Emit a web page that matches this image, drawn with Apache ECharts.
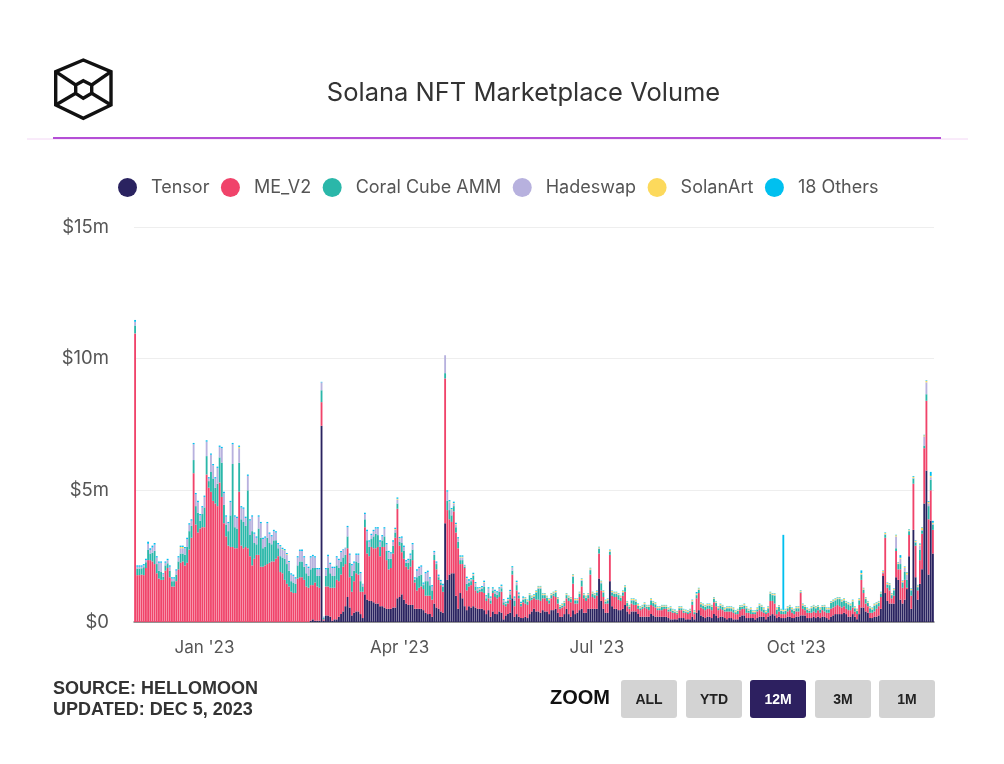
<!DOCTYPE html>
<html>
<head>
<meta charset="utf-8">
<title>Solana NFT Marketplace Volume</title>
<script src="https://cdn.jsdelivr.net/npm/echarts@6/dist/echarts.min.js"></script>
<style>
  html, body { margin: 0; padding: 0; background: #fff; }
  #chart { width: 1004px; height: 764px; filter: blur(0.5px); }
</style>
</head>
<body>
<div id="chart"></div>
<script>
// daily volume in $m. first bar is Nov 30 2022
const firstDay = Date.UTC(2022, 10, 30)
const tickMonths = ['2023-01-01', '2023-04-01', '2023-07-01', '2023-10-01']
const tickLabels = ["Jan '23", "Apr '23", "Jul '23", "Oct '23"]
const yTicks = ['$0', '$5m', '$10m', '$15m']
const names = ['Tensor', 'ME_V2', 'Coral Cube AMM', 'Hadeswap', 'SolanArt', '18 Others']
const colors = ['#2a2360', '#f0436a', '#2ab7a9', '#b7b1de', '#fcd95c', '#00c0ef']

const tensor = [
  0,0,0,0,0,0,0,0,0,0, 0,0,0,0,0,0,0,0,0,0,
  0,0,0,0,0,0,0,0,0,0, 0,0,0,0,0,0,0,0,0,0,
  0,0,0,0,0,0,0,0,0,0, 0,0,0,0,0,0,0,0,0,0,
  0,0,0,0,0,0,0,0,0,0, 0,0,0,0,0,0,0,0,0,0,
  0,.05,.1,.05,.05,.05,7.45,.05,.25,.25,
  .2,.05,.1,.1,.2,.3,.4,.6,.95,.55,
  .25,.35,.4,.4,.3,.15,1.05,.85,.8,.8,
  .75,.7,.7,.6,.6,.55,.5,.5,.5,.55,
  .55,.9,.95,1.05,.85,.7,.65,.65,.65,.5,
  .5,.5,.5,.45,.35,.3,.3,.2,.7,.55,
  .5,.4,.35,3.75,1.6,1.8,1.85,1.85,1,.5,
  1.1,.9,.6,.45,.6,.55,.6,.55,.5,.5,
  .5,.45,.3,.45,.2,.4,.3,.3,.4,.35,
  .1,.25,.3,.35,.9,.2,.3,.2,.15,.15,
  .2,.15,.3,.4,.5,.4,.4,.35,.45,.4,
  .4,.3,.45,.45,.5,.35,.2,.2,.3,.5,
  .3,.2,.45,.3,.35,.45,.5,.35,.35,.5,
  .5,.5,.5,.5,1.65,.8,.5,.35,.35,1.55,
  .6,.5,.5,.45,.45,.5,.65,.4,.3,.4,
  .4,.4,.3,.2,.2,.2,.2,.2,.3,.25,
  .2,.2,.2,.2,.2,.2,.15,.1,.1,.1,
  .1,.15,.15,.15,.1,.1,.1,.2,.1,.35,
  .45,.25,.2,.15,.2,.2,.15,.3,.25,.15,
  .2,.2,.15,.1,.15,.15,.1,.1,.1,.2,
  .25,.25,.15,.15,.15,.15,.1,.15,.2,.2,
  .2,.1,.2,.25,.3,.25,.15,.2,.15,.15,
  .15,.2,.2,.15,.15,.2,.2,.25,.25,.25,
  .15,.15,.15,.2,.15,.2,.15,.2,.2,.15,
  .1,.2,.25,.3,.3,.3,.3,.35,.3,.2,
  .2,.3,.2,.1,.3,.55,.55,.4,.35,.15,
  .15,.2,.2,.25,.5,1.75,1.1,.8,.7,.7,
  .7,1.7,1.6,.85,.7,.85,1.25,2.5,.5,3.5,
  1.7,.85,1.45,2,4.5,5.75,1.8,3.85,2.6
]
const meV2 = [
  10.96,1.78,1.78,1.8,1.78,2.05,2.35,2.35,2.3,2.2,
  1.85,1.65,1.6,1.6,1.95,2.05,1.7,1.35,1.35,1.55,
  2,2.25,2.3,2.15,2.25,2.75,3.2,5.65,3.7,3.4,
  3.55,3.6,3.6,5.6,5.1,4.95,4.6,4.5,4.4,5.3,
  4.75,3.75,3.25,2.9,2.85,2.85,2.8,2.8,4.95,2.9,
  2.8,2.85,2.8,2.5,2.15,2.4,2.55,2.55,2.1,2.1,
  2.15,2.2,2.25,2.3,2.3,2.4,2.5,1.9,1.85,1.6,
  1.45,1.35,1.15,1.1,1.1,1.65,1.7,1.7,1.6,1.35,
  1.3,1.35,1.3,1.45,1.3,1.25,.9,.05,1.1,1.1,
  1.1,1.25,1.2,1.5,1.35,1.5,1.7,1.6,1.85,1.15,
  .9,1.2,1.45,1.4,.85,1,2.55,1.75,1.7,2.05,
  2.05,2.1,2.15,1.9,2.25,2.3,1.85,1.5,1.55,2.05,
  2.65,3.4,1.95,1.6,1.55,1.4,1.35,1.45,1.7,1,
  .7,.8,.85,.8,.65,.7,.7,.65,1.65,1.45,
  1.1,1,.8,5.5,2.65,2.1,1.95,2.35,2.4,2.3,
  1.1,1.3,1.45,.75,.75,.85,1,.65,.6,.65,
  .65,.65,.5,.45,.5,.7,.65,.6,.55,.8,
  .55,.35,.4,.5,.9,.4,.9,.7,.45,.6,
  .5,.5,.5,.45,.4,.45,.45,.45,.45,.5,
  .4,.4,.45,.55,.45,.35,.3,.35,.3,.4,
  .5,.55,1,.4,.35,.5,.85,.55,.45,.4,
  1.3,.45,.4,.5,.95,.4,.45,.35,.35,1,
  .4,.45,.45,.4,.35,.5,.5,.2,.2,.3,
  .25,.25,.2,.25,.3,.35,.3,.25,.35,.35,
  .35,.25,.25,.25,.3,.3,.25,.3,.25,.25,
  .2,.3,.3,.2,.25,.2,.25,.45,.2,.55,
  .65,.3,.3,.3,.3,.3,.3,.45,.35,.3,
  .3,.25,.25,.3,.25,.25,.25,.2,.2,.25,
  .25,.25,.2,.2,.15,.15,.2,.25,.25,.2,
  .15,.2,.15,.55,.5,.45,.15,.2,.15,.15,
  .15,.2,.25,.2,.15,.2,.2,.85,.25,.2,
  .2,.2,.2,.2,.2,.25,.2,.25,.2,.2,
  .25,.3,.3,.3,.35,.3,.25,.25,.2,.25,
  .25,.25,.2,.2,.35,1.05,.55,.3,.25,.2,
  .2,.2,.3,.35,.45,.1,2.1,.5,.5,.2,
  .3,1,.4,1.15,.6,.75,.05,.8,.5,1.75,
  1.2,.35,.9,1.35,2.1,2.65,2.1,1.15,.9
]
const coralCube = [
  .3,.25,.25,.24,.3,.22,.4,.25,.33,.5,
  .35,.3,.3,.12,.2,.18,.25,.2,.2,.25,
  .3,.35,.3,.4,.6,.7,.45,.5,.7,.75,
  .3,.5,.75,.7,.25,.75,.85,.6,.85,.95,
  1.3,.7,.45,.55,1.2,3.15,.8,.75,1.1,1,
  1,.8,2.2,.8,1.3,.6,.4,1,1.1,.7,
  .7,1,.75,.65,.8,.7,.3,.6,.6,.8,
  .75,.6,.4,.4,.35,.5,.6,.6,.5,.5,
  .45,.6,.65,.55,.4,.45,.45,.05,.4,.7,
  .55,.45,.45,.55,.5,.5,.35,.35,.45,.55,
  .6,.4,.45,.45,.4,.2,.3,.5,.35,.3,
  .45,.55,.45,.35,.25,.4,.35,.4,.35,.3,
  .2,.2,.15,.35,.3,.15,.25,.3,.4,.1,
  .5,.45,.45,.15,.55,.55,.4,.35,.2,.2,
  .1,.1,.2,.2,.35,.35,.25,.2,.2,.25,
  .15,.15,.05,.25,.15,.15,.15,.15,.1,.08,
  .1,.25,.1,.2,.12,.1,.13,.13,.2,.13,
  .1,.08,.1,.2,.15,.2,.2,.1,.08,.1,
  .17,.12,.22,.07,.07,.27,.42,.47,.12,.12,
  .12,.12,.12,.07,.17,.17,.07,.07,.12,.12,
  .12,.12,.27,.12,.12,.12,.22,.12,.12,.12,
  .17,.12,.12,.12,.17,.27,.17,.07,.12,.12,
  .12,.12,.12,.17,.12,.12,.17,.12,.07,.12,
  .17,.12,.12,.07,.07,.12,.07,.12,.17,.12,
  .12,.07,.07,.12,.07,.07,.07,.12,.07,.04,
  .04,.07,.07,.07,.04,.07,.07,.12,.07,.12,
  .12,.12,.12,.12,.12,.12,.12,.12,.12,.07,
  .12,.12,.07,.12,.12,.12,.12,.07,.12,.12,
  .07,.12,.17,.07,.17,.07,.07,.07,.17,.17,
  .12,.07,.17,.27,.22,.3,.17,.17,.12,.1,
  .12,.12,.12,.12,.12,.12,.12,.03,.12,.12,
  .12,.07,.17,.17,.17,.12,.12,.12,.17,.12,
  .12,.22,.22,.22,.22,.27,.22,.22,.22,.22,
  .17,.22,.12,.12,.17,.2,.12,.17,.12,.17,
  .12,.22,.17,.12,.12,.03,.12,.12,.2,.12,
  .2,.1,.2,.2,.2,.3,.3,.15,.2,.2,
  .12,.12,.4,.12,.1,.25,.5,.4,.2
]
const hadeswap = [
  .14,.07,.07,.06,.07,.08,.22,.14,.2,.24,
  .25,.3,.35,.1,.1,.12,.15,.1,.1,.15,
  .15,.2,.2,.25,.3,.25,.2,.6,.45,.4,
  .2,.25,.4,.55,.1,.65,.5,.35,.6,.4,
  .55,.45,.3,.3,.5,.75,.4,.4,.55,.45,
  .5,.3,.55,.55,.55,.35,.25,.45,.55,.35,
  .35,.55,.35,.3,.35,.3,.15,.35,.3,.3,
  .35,.3,.25,.25,.2,.3,.4,.4,.35,.3,
  .3,.45,.45,.4,.25,.25,.3,.03,.25,.45,
  .35,.3,.3,.3,.3,.35,.3,.25,.35,.3,
  .4,.3,.25,.3,.3,.08,.2,.35,.2,.15,
  .2,.2,.25,.2,.15,.3,.25,.25,.2,.15,
  .1,.15,.1,.2,.15,.05,.1,.15,.2,.05,
  .25,.3,.3,.05,.3,.35,.25,.15,.1,.05,
  .05,.05,.05,.68,.35,.3,.2,.1,.1,.1,
  .1,.1,.02,.2,.05,.05,.05,.1,.05,.04,
  .05,.15,.05,.15,.08,.05,.07,.07,.1,.07,
  .05,.03,.05,.1,.1,.1,.1,.05,.02,.05,
  .02,.02,.02,.02,.02,.02,.04,.04,.02,.02,
  .02,.02,.02,.02,.02,.02,.02,.02,.02,.02,
  .02,.02,.04,.02,.02,.02,.03,.02,.02,.02,
  .03,.02,.02,.02,.03,.04,.02,.02,.02,.02,
  .02,.02,.02,.02,.02,.02,.02,.02,.02,.02,
  .02,.02,.02,.02,.02,.02,.02,.02,.02,.02,
  .02,.02,.02,.02,.02,.02,.02,.02,.02,.02,
  .02,.02,.02,.02,.02,.02,.02,.02,.02,.02,
  .02,.02,.02,.02,.02,.02,.02,.02,.02,.02,
  .02,.02,.02,.02,.02,.02,.02,.02,.02,.02,
  .02,.02,.02,.02,.02,.02,.02,.02,.02,.02,
  .02,.02,.02,.02,.02,.03,.02,.02,.02,.02,
  .02,.02,.02,.02,.02,.02,.02,.02,.02,.02,
  .02,.02,.02,.02,.02,.02,.02,.02,.02,.02,
  .02,.02,.02,.02,.02,.02,.02,.02,.02,.02,
  .02,.02,.02,.02,.02,.02,.02,.02,.02,.02,
  .02,.02,.02,.02,.02,.02,.02,.02,.02,.02,
  .02,.45,.02,.2,.02,.15,.2,.02,.02,.02,
  .02,.02,.15,.02,.35,.45,.1,.1,.03
]
const solanArt = [
  0,0,0,0,0,0,0,0,0,0, 0,0,0,0,0,0,0,0,0,0,
  0,.05,.05,0,0,0,0,0,0,0, 0,0,0,0,0,0,0,0,0,0,
  0,0,0,0,0,0,0,0,.05,0, 0,0,0,0,0,0,0,0,0,0,
  0,0,0,0,0,0,0,.02,.02,.02, .03,.02,0,0,0,0,0,0,0,0,
  0,0,0,0,0,0,0,0,0,0, 0,0,0,0,0,0,0,0,0,0,
  0,0,0,0,0,0,0,0,0,0, 0,0,0,0,0,0,0,0,0,0,
  .03,.03,.03,0,0,0,0,0,0,0, 0,0,0,0,0,0,0,0,0,0,
  0,0,0,0,0,.03,.03,.02,.02,.02, .03,.03,.02,.02,.02,.02,.02,.02,.02,.02,
  .02,.02,.02,.02,.02,.02,.02,.02,.02,.02, .02,.02,.02,.02,.02,.02,.02,.02,.02,.02,
  .04,.04,.04,.04,.04,.04,.04,.04,.04,.04,
  .04,.04,.04,.04,.04,.04,.04,.04,.04,.04,
  .04,.04,.04,.04,.04,.04,.04,.04,.04,.04,
  .04,.04,.04,.04,.04,.04,.04,.04,.04,.04,
  .04,.04,.04,.04,.04,.04,.04,.04,.04,.04,
  .04,.04,.04,.04,.04,.04,.04,.04,.04,.04,
  .04,.04,.04,.04,.04,.04,.04,.04,.04,.04,
  .04,.04,.04,.04,.04,.04,.04,.04,.04,.04,
  .04,.04,.04,.04,.04,.04,.04,.04,.04,.04,
  .04,.04,.04,.04,.04,.04,.04,.04,.04,.04,
  .04,.04,.04,.04,.04,.04,.04,.04,.04,.04,
  .04,.04,.04,.04,.04,.04,.04,.04,.04,.04,
  .04,.04,.04,.04,.04,.04,.04,.04,.04,.03,
  .04,.04,.04,.04,.04,.04,.04,.03,.04,.04,
  .04,.04,.04,.04,.04,.04,.04,.04,.04,.04,
  .04,.04,.04,.04,.04,.04,.04,.04,.04,.04,
  .04,.04,.04,.04,.04,.04,.04,.04,.04,.04,
  .04,.04,.04,.04,.04,.04,.08,.04,.04,.04,
  .04,.05,.04,.1,.04,.06,.06,.05,.04,.05,
  .04,.04,.05,.04,.04,.05,.04,.03,.04
]
const others18 = [
  .07,.05,.05,.05,.05,.05,.08,.06,.07,.06,
  .05,.05,.05,.03,.05,.05,.05,.05,.05,.05,
  .05,.05,.05,.05,.05,.05,.05,.05,.05,.05,
  .05,.05,.05,.05,.05,.05,.05,.05,.05,.05,
  .05,.05,.05,.05,.05,.05,.05,.05,.05,.05,
  .05,.05,.05,.05,.05,.05,.05,.05,.05,.05,
  .05,.05,.05,.05,.05,.05,.05,.05,.05,.05,
  .04,.05,.05,.05,.05,.05,.05,.05,.05,.05,
  .05,.05,.05,.05,.05,.05,.02,.02,.05,.05,
  .05,.05,.05,.05,.05,.05,.02,.02,.05,.05,
  .05,.05,.05,.05,.05,.02,.05,.05,.05,.05,
  .05,.05,.05,.05,.05,.05,.05,.05,.05,.05,
  .05,.05,.05,.05,.05,.05,.05,.05,.05,.05,
  .05,.05,.05,.05,.05,.05,.05,.05,.05,.05,
  .05,.05,.05,0,.05,.05,.05,.05,.05,.05,
  .05,.05,.03,.05,.05,.05,.05,.05,.05,.03,
  .05,.05,.05,.05,.05,.05,.05,.05,.05,.05,
  .05,.04,.05,.05,.05,.05,.05,.05,.05,.05,
  .02,.02,.02,.02,.02,.02,.02,.02,.02,.02,
  .02,.02,.02,.02,.02,.02,.02,.02,.02,.02,
  .02,.02,.02,.02,.02,.02,.02,.02,.02,.02,
  .02,.02,.02,.02,.02,.02,.02,.02,.02,.02,
  .02,.02,.02,.02,.02,.02,.02,.02,.02,.02,
  .02,.02,.02,.02,.02,.02,.02,.02,.02,.02,
  .02,.02,.02,.02,.02,.02,.02,.02,.02,.02,
  .02,.02,.02,.02,.02,.02,.02,.02,.02,.06,
  .02,.02,.02,.02,.02,.02,.02,.02,.02,.02,
  .02,.02,.02,.02,.02,.02,.02,.02,.02,.02,
  .02,.02,.02,.02,.02,.02,.02,.02,.02,.02,
  .02,.02,.02,.02,.02,.02,.02,.02,.02,2.85,
  .02,.02,.02,.02,.02,.02,.02,.02,.02,.02,
  .02,.02,.02,.02,.02,.02,.02,.02,.02,.02,
  .02,.02,.02,.02,.02,.02,.02,.02,.02,.02,
  .02,.02,.02,.02,.02,.1,.02,.02,.02,.02,
  .02,.02,.02,.02,.02,.02,.02,.02,.02,.02,
  .02,.02,.02,.1,.02,.02,.02,.02,.02,.03,
  .02,.02,.04,.02,.02,.02,.03,.15,.07
]
const seriesValues = [tensor, meV2, coralCube, hadeswap, solanArt, others18]

const days = tensor.map((v, i) => new Date(firstDay + i * 86400000).toISOString().slice(0, 10))

// zoom buttons are only drawn, no behaviour
const zoomButtons = ['ALL', 'YTD', '12M', '3M', '1M']
const buttonX = [621, 686, 750, 815, 879]

const logoStroke = { fill: 'none', stroke: '#111', lineWidth: 3.4 }
const graphics = [
  { type: 'polygon', shape: { points: [[83.3, 60], [111, 71.7], [111, 105], [83.3, 118.3], [55.7, 105], [55.7, 71.7]] }, style: logoStroke },
  { type: 'polygon', shape: { points: [[83.3, 80.7], [91.7, 85], [91.7, 93.3], [83.3, 98.3], [75.7, 93.3], [75.7, 85]] }, style: logoStroke },
  { type: 'line', shape: { x1: 55.7, y1: 71.7, x2: 75.7, y2: 85 }, style: logoStroke },
  { type: 'line', shape: { x1: 111, y1: 71.7, x2: 91.7, y2: 85 }, style: logoStroke },
  { type: 'line', shape: { x1: 55.7, y1: 105, x2: 75.7, y2: 93.3 }, style: logoStroke },
  { type: 'line', shape: { x1: 111, y1: 105, x2: 91.7, y2: 93.3 }, style: logoStroke },
  { type: 'line', shape: { x1: 27, y1: 139, x2: 968, y2: 139 }, style: { stroke: '#f3d6f5', lineWidth: 1 } },
  { type: 'line', shape: { x1: 53, y1: 138, x2: 941, y2: 138 }, style: { stroke: '#b44fd6', lineWidth: 2 } },
  { type: 'text', x: 53, y: 689, style: { text: 'SOURCE: HELLOMOON', font: 'bold 18px "Liberation Sans"', fill: '#333', textVerticalAlign: 'middle' } },
  { type: 'text', x: 53, y: 710, style: { text: 'UPDATED: DEC 5, 2023', font: 'bold 18px "Liberation Sans"', fill: '#333', textVerticalAlign: 'middle' } },
  { type: 'text', x: 550, y: 698, style: { text: 'ZOOM', font: 'bold 20px "Liberation Sans"', fill: '#111', textVerticalAlign: 'middle' } }
]
zoomButtons.forEach((label, i) => {
  const active = label === '12M'
  graphics.push({ type: 'rect', shape: { x: buttonX[i], y: 680, width: 56, height: 38, r: 3 }, style: { fill: active ? '#2d2060' : '#d3d3d3' } })
  graphics.push({ type: 'text', x: buttonX[i] + 28, y: 700, style: {
    text: label, font: 'bold 14px "Liberation Sans"', fill: active ? '#fff' : '#222', textAlign: 'center', textVerticalAlign: 'middle'
  } })
})

const chart = echarts.init(document.getElementById('chart'))
chart.setOption({
  animation: false,
  backgroundColor: '#fff',
  color: colors,
  title: {
    text: 'Solana NFT Marketplace Volume',
    left: 518.5,
    top: 75,
    textAlign: 'center',
    textStyle: { fontFamily: 'Inter', fontSize: 25.5, fontWeight: 400, color: '#333' }
  },
  legend: {
    left: 113,
    top: 173,
    icon: 'circle',
    itemWidth: 19,
    itemHeight: 19,
    itemGap: 11.5,
    textStyle: { fontFamily: 'Inter', fontSize: 18, color: '#555', padding: [0, 0, 0, 9] },
    data: names
  },
  grid: { left: 134, right: 70, top: 227, bottom: 142 },
  xAxis: {
    type: 'category',
    data: days,
    boundaryGap: true,
    axisTick: { show: false },
    axisLine: { lineStyle: { color: '#777', width: 1.5 } },
    axisLabel: {
      interval: (i, day) => tickMonths.includes(day),
      formatter: day => tickLabels[tickMonths.indexOf(day)],
      fontFamily: 'Inter',
      fontSize: 17,
      color: '#555',
      margin: 17
    }
  },
  yAxis: {
    type: 'value',
    min: 0,
    max: 15,
    interval: 5,
    axisLine: { show: false },
    axisTick: { show: false },
    splitLine: { lineStyle: { color: '#eeeeee', width: 1 } },
    axisLabel: {
      formatter: v => yTicks[v / 5],
      fontFamily: 'Inter',
      fontSize: 18.5,
      color: '#555',
      margin: 25,
      padding: [7, 0, 0, 0]
    }
  },
  series: names.map((name, i) => ({
    name: name,
    type: 'bar',
    stack: 'volume',
    barWidth: '85%',
    data: seriesValues[i],
    itemStyle: { color: colors[i] }
  })),
  graphic: graphics
})
</script>
</body>
</html>
